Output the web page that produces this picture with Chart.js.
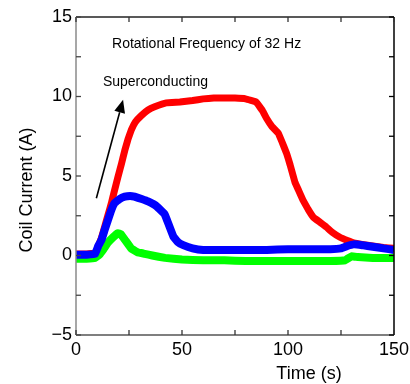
<!DOCTYPE html>
<html>
<head>
<meta charset="utf-8">
<script src="https://cdn.jsdelivr.net/npm/chart.js@4/dist/chart.umd.min.js"></script>
<style>
  html, body { margin: 0; padding: 0; background: #fff; }
  #wrap { width: 410px; height: 384px; }
</style>
</head>
<body>
<div id="wrap"><canvas id="myChart" width="410" height="384"></canvas></div>
<script>
// Coil current vs time (s, A)
const redTime = [0, 5, 9.5, 10.4, 12, 13.5, 15, 16.7, 18, 19.8, 21.5, 23, 24.5, 26.1, 28, 30.8, 34, 37.1, 42.6, 49, 55, 60, 65, 70, 75, 80, 85, 88, 90, 92.5, 95.4, 97, 99.4, 101, 103.3, 105, 107, 109.5, 112, 115, 118, 121, 124.5, 128, 131, 135, 140, 145, 150];
const redCurrent = [0.1, 0.1, 0.15, 0.55, 1.1, 1.8, 2.5, 3.3, 4.0, 4.95, 5.8, 6.6, 7.3, 7.9, 8.4, 8.8, 9.15, 9.35, 9.6, 9.65, 9.75, 9.85, 9.9, 9.9, 9.9, 9.85, 9.65, 9.1, 8.6, 8.1, 7.7, 7.2, 6.4, 5.7, 4.6, 4.1, 3.5, 2.9, 2.4, 2.1, 1.8, 1.45, 1.15, 0.95, 0.8, 0.7, 0.6, 0.5, 0.45];

const blueTime = [0, 5, 9, 10.5, 12, 13.5, 15, 16.5, 18.2, 20.5, 23, 25.5, 27.6, 31, 34, 38, 41.8, 43, 45.9, 48, 50.6, 55, 60, 70, 80, 90, 100, 110, 120, 125, 128, 131, 135, 140, 145, 150];
const blueCurrent = [0.05, 0.05, 0.1, 0.6, 0.97, 1.6, 2.2, 2.8, 3.3, 3.55, 3.7, 3.75, 3.7, 3.55, 3.4, 3.1, 2.6, 2.2, 1.2, 0.85, 0.65, 0.45, 0.35, 0.35, 0.35, 0.35, 0.4, 0.4, 0.4, 0.45, 0.6, 0.7, 0.65, 0.55, 0.45, 0.35];

const greenTime = [0, 5, 9, 11, 13, 15, 17.5, 19.8, 21, 23, 26, 29, 32.4, 36, 42, 50, 60, 70, 80, 90, 100, 110, 120, 127, 130, 133, 140, 150];
const greenCurrent = [-0.2, -0.2, -0.15, 0.05, 0.4, 0.8, 1.15, 1.4, 1.35, 1.0, 0.45, 0.2, 0.1, 0.0, -0.15, -0.25, -0.3, -0.3, -0.35, -0.35, -0.35, -0.35, -0.35, -0.3, -0.05, -0.1, -0.15, -0.15];

const xTicks = [0, 50, 100, 150];
const yTicks = [-5, 0, 5, 10, 15];

// texte dans le graphe (coordonnées en unités de données)
const titleText = "Rotational Frequency of 32 Hz";
const titleAt = [17, 13.3];
const noteText = "Superconducting";
const noteAt = [12.7, 10.9];
const arrowFrom = [9.6, 3.6];
const arrowTo = [22.2, 9.8];

const FONT = "'Liberation Sans', Arial, sans-serif";

function pts(ts, vs) {
  return ts.map((t, i) => ({ x: t, y: vs[i] }));
}

const framePlugin = {
  id: 'frame',
  afterDatasetsDraw(chart) {
    const ctx = chart.ctx;
    const a = chart.chartArea;
    const xs = chart.scales.x, ys = chart.scales.y;
    ctx.save();
    ctx.lineCap = 'butt';

    // cadre
    ctx.lineWidth = 1.5;
    ctx.strokeStyle = '#222';
    ctx.beginPath(); ctx.moveTo(a.left, a.top); ctx.lineTo(a.right, a.top); ctx.stroke();
    ctx.strokeStyle = '#000';
    ctx.beginPath(); ctx.moveTo(a.right, a.top); ctx.lineTo(a.right, a.bottom); ctx.stroke();
    ctx.strokeStyle = '#555';
    ctx.beginPath(); ctx.moveTo(a.left, a.bottom); ctx.lineTo(a.right, a.bottom); ctx.stroke();
    ctx.strokeStyle = '#8a8a8a';
    ctx.beginPath(); ctx.moveTo(a.left, a.top); ctx.lineTo(a.left, a.bottom); ctx.stroke();

    // petites graduations vers l'intérieur
    const len = 5;
    ctx.lineWidth = 1.3;
    xs.ticks.forEach(t => {
      const px = xs.getPixelForValue(t.value);
      ctx.strokeStyle = '#333';
      ctx.beginPath(); ctx.moveTo(px, a.bottom); ctx.lineTo(px, a.bottom - len); ctx.stroke();
      ctx.beginPath(); ctx.moveTo(px, a.top); ctx.lineTo(px, a.top + len); ctx.stroke();
    });
    ys.ticks.forEach(t => {
      const py = ys.getPixelForValue(t.value);
      ctx.strokeStyle = '#444';
      ctx.beginPath(); ctx.moveTo(a.left, py); ctx.lineTo(a.left + len, py); ctx.stroke();
      ctx.strokeStyle = '#000';
      ctx.beginPath(); ctx.moveTo(a.right, py); ctx.lineTo(a.right - len, py); ctx.stroke();
    });

    // textes
    ctx.fillStyle = '#000';
    ctx.font = '14px ' + FONT;
    ctx.textAlign = 'left';
    ctx.textBaseline = 'middle';
    ctx.fillText(titleText, xs.getPixelForValue(titleAt[0]), ys.getPixelForValue(titleAt[1]));
    ctx.fillText(noteText, xs.getPixelForValue(noteAt[0]), ys.getPixelForValue(noteAt[1]));

    // flèche
    const x0 = xs.getPixelForValue(arrowFrom[0]), y0 = ys.getPixelForValue(arrowFrom[1]);
    const x1 = xs.getPixelForValue(arrowTo[0]), y1 = ys.getPixelForValue(arrowTo[1]);
    const ang = Math.atan2(y1 - y0, x1 - x0);
    const head = 13, hw = 5.5;
    const bx = x1 - head * Math.cos(ang), by = y1 - head * Math.sin(ang);
    ctx.strokeStyle = '#000';
    ctx.lineWidth = 1.6;
    ctx.beginPath(); ctx.moveTo(x0, y0); ctx.lineTo(bx, by); ctx.stroke();
    ctx.beginPath();
    ctx.moveTo(x1, y1);
    ctx.lineTo(bx + hw * Math.sin(ang), by - hw * Math.cos(ang));
    ctx.lineTo(bx - hw * Math.sin(ang), by + hw * Math.cos(ang));
    ctx.closePath();
    ctx.fill();

    // titres des axes
    ctx.font = '18px ' + FONT;
    ctx.textAlign = 'center';
    ctx.fillText('Time (s)', 309, 374);
    ctx.save();
    ctx.translate(27, 190);
    ctx.rotate(-Math.PI / 2);
    ctx.fillText('Coil Current (A)', 0, 0);
    ctx.restore();

    ctx.restore();
  }
};

const ctx = document.getElementById('myChart').getContext('2d');
const chart = new Chart(ctx, {
  type: 'line',
  data: {
    datasets: [
      { label: 'blue', data: pts(blueTime, blueCurrent), borderColor: '#0000ff', borderWidth: 8 },
      { label: 'green', data: pts(greenTime, greenCurrent), borderColor: '#00ff00', borderWidth: 8 },
      { label: 'red', data: pts(redTime, redCurrent), borderColor: '#ff0000', borderWidth: 7 }
    ]
  },
  options: {
    responsive: false,
    animation: false,
    layout: { padding: { left: 0, top: 17, right: 16, bottom: 0 } },
    elements: {
      point: { radius: 0 },
      line: { tension: 0.05, borderJoinStyle: 'round', borderCapStyle: 'butt', fill: false }
    },
    plugins: {
      legend: { display: false },
      tooltip: { enabled: false }
    },
    scales: {
      x: {
        type: 'linear',
        min: 0, max: 150,
        grid: { display: false, drawTicks: false },
        border: { display: false },
        afterFit: s => { s.height = 49; s.paddingLeft = 0; s.paddingRight = 0; },
        ticks: {
          stepSize: 25,
          autoSkip: false,
          maxRotation: 0,
          padding: 4,
          color: '#000',
          font: { family: FONT, size: 18 },
          callback: v => xTicks.includes(v) ? String(v) : ''
        }
      },
      y: {
        min: -5, max: 15,
        grid: { display: false, drawTicks: false },
        border: { display: false },
        afterFit: s => { s.width = 76; s.paddingTop = 0; s.paddingBottom = 0; },
        ticks: {
          stepSize: 2.5,
          autoSkip: false,
          padding: 4,
          color: '#000',
          font: { family: FONT, size: 18 },
          callback: v => yTicks.includes(v) ? (v < 0 ? '\u2212' + Math.abs(v) : String(v)) : ''
        }
      }
    }
  },
  plugins: [framePlugin]
});
</script>
</body>
</html>
